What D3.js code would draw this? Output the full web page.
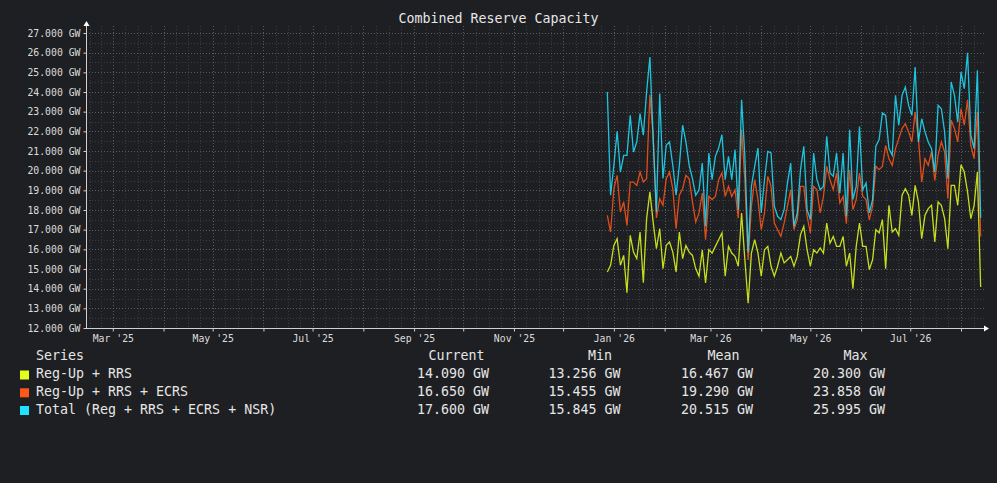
<!DOCTYPE html>
<html>
<head>
<meta charset="utf-8">
<script src="https://cdn.jsdelivr.net/npm/d3@7/dist/d3.min.js"></script>
<style>
  html, body { margin: 0; padding: 0; background: #1e1f22; }
  svg { display: block; }
  text { font-family: "DejaVu Sans Mono", monospace; }
</style>
</head>
<body>
<svg id="chart" width="997" height="483"></svg>
<script>
// ---------- DATA ----------
const chartTitle = "Combined Reserve Capacity";
const seriesStart = "2025-12-28";   // first sample
const stepDays = 2;                 // spacing between samples

const seriesNames = ["Reg-Up + RRS", "Reg-Up + RRS + ECRS", "Total (Reg + RRS + ECRS + NSR)"];
const seriesColors = ["#e4ff1c", "#ff561a", "#1fe2ff"];

const regUpRrs = [
  14.85, 15.19, 16.2, 16.54, 15.19, 15.69, 13.8, 16.71, 15.86, 15.53,
  16.88, 14.3, 17.56, 18.92, 17.39, 16.03, 17.05, 15.02, 16.2, 16.37,
  15.86, 14.85, 16.88, 15.53, 16.2, 15.86, 15.69, 15.02,
  14.63, 15.98, 14.29, 15.98, 15.81, 16.15, 16.49, 16.83, 14.63, 16.15,
  15.81, 15.64, 15.14, 17.85, 15.47, 13.256, 15.81, 16.49, 15.81, 14.63,
  15.98, 16.15, 15.14, 14.63, 15.14, 15.81, 15.31, 15.47, 15.64,
  15.14, 15.64, 16.75, 17.17, 15.98, 15.14, 15.98, 15.81, 16.07, 15.81,
  17.34, 16.32, 16.66, 16.15, 16.15, 16.66, 15.14, 15.81, 14.0, 16.15,
  17.34, 16.15, 16.15, 14.97, 15.47, 17.0, 16.83, 17.51,
  15.02, 18.24, 16.88, 17.05, 16.71, 18.75, 19.08, 18.75, 17.73, 19.25,
  18.41, 16.54, 17.73, 18.07, 18.24, 16.37, 18.41, 18.24, 17.56, 16.03,
  19.25, 19.25, 18.24, 20.3, 19.93, 18.92, 17.56, 18.24, 19.93, 14.09
];
const regUpRrsEcrs = [
  17.73, 16.88, 19.08, 19.76, 17.9, 18.41, 17.22, 19.42, 19.42, 19.25,
  19.93, 19.42, 19.59, 23.858, 21.8, 17.6, 18.58, 18.24, 19.59, 19.93,
  19.08, 17.05, 18.75, 19.08, 19.76, 19.59, 18.41, 17.39,
  17.85, 18.86, 16.49, 18.69, 18.53, 18.69, 19.54, 19.88, 18.69, 19.2,
  18.69, 19.03, 17.6, 22.08, 19.54, 15.455, 18.19, 19.54, 18.53, 17.0,
  17.85, 19.71, 19.2, 17.34, 17.0, 16.66, 17.34, 18.19, 19.03,
  17.0, 17.51, 19.2, 19.2, 17.7, 16.83, 19.2, 19.03, 17.85, 18.69,
  20.22, 19.54, 19.03, 19.88, 18.36, 18.69, 17.3, 20.05, 18.02, 18.53,
  19.88, 18.7, 18.53, 17.5, 18.2, 20.22, 20.05, 20.22,
  21.29, 20.61, 20.27, 21.12, 21.63, 22.14, 22.39, 21.97, 21.46, 22.98,
  21.63, 19.42, 20.61, 20.27, 20.95, 19.5, 20.78, 21.46, 20.95, 18.58,
  22.56, 22.14, 21.46, 23.15, 22.31, 23.6, 21.29, 20.61, 22.98, 16.65
];
const totalReserve = [
  24.0, 18.75, 20.27, 22.0, 19.93, 20.78, 20.78, 22.81, 20.95, 21.46,
  22.9, 21.8, 24.0, 25.78, 21.63, 17.9, 23.92, 19.6, 21.29, 21.46,
  20.27, 18.75, 20.27, 22.31, 21.46, 20.27, 19.6, 18.75,
  19.03, 20.39, 17.17, 20.9, 19.54, 20.73, 21.15, 21.83, 19.54, 20.73,
  19.54, 21.07, 18.02, 23.61, 20.73, 15.845, 19.2, 20.22, 21.15, 17.85,
  19.54, 20.98, 20.9, 18.19, 17.68, 17.51, 18.02, 19.37, 20.39,
  17.17, 17.85, 20.05, 21.24, 18.02, 17.51, 20.9, 19.54, 19.03, 19.2,
  21.75, 19.88, 19.71, 20.9, 18.86, 20.9, 17.68, 22.08, 18.53, 19.2,
  22.25, 19.03, 19.37, 17.85, 18.53, 21.24, 21.58, 22.93,
  22.81, 21.12, 20.78, 23.83, 22.31, 23.83, 24.25, 23.32, 22.81, 25.27,
  21.46, 22.64, 21.97, 21.46, 21.12, 19.93, 23.32, 23.15, 21.97, 19.59,
  24.51, 23.83, 22.47, 25.02, 24.17, 25.995, 21.8, 21.12, 25.1, 17.6
];

const statHeaders = ["Current", "Min", "Mean", "Max"];
const currentVals = ["14.090 GW", "16.650 GW", "17.600 GW"];
const minVals     = ["13.256 GW", "15.455 GW", "15.845 GW"];
const meanVals    = ["16.467 GW", "19.290 GW", "20.515 GW"];
const maxVals     = ["20.300 GW", "23.858 GW", "25.995 GW"];

const yTicks = [12, 13, 14, 15, 16, 17, 18, 19, 20, 21, 22, 23, 24, 25, 26, 27];

// ---------- LAYOUT ----------
const W = 997, H = 483;
const plotL = 86, plotR = 984, plotT = 26, plotB = 328;
const fontAxis = "9.8px", fontBig = "13.3px";
const txtColor = "#dcdcdc";

const svg = d3.select("#chart");
svg.append("rect").attr("width", W).attr("height", H).attr("fill", "#1e1f22");

// x scale anchored on Mar 1 2025 and Aug 1 2026 positions
const xAnchor = d3.scaleUtc()
  .domain([new Date(Date.UTC(2025, 2, 1)), new Date(Date.UTC(2026, 7, 1))])
  .range([112.8, 961]);
const x = d3.scaleUtc()
  .domain([xAnchor.invert(plotL), xAnchor.invert(plotR)])
  .range([plotL, plotR]);
const y = d3.scaleLinear().domain([12, 27]).range([plotB, 33]);

// ---------- GRID ----------
const grid = svg.append("g");
// minor horizontal (half GW)
const minorY = d3.range(12.5, y.invert(plotT), 1);
grid.selectAll(".hmin").data(minorY).enter().append("line")
  .attr("x1", plotL).attr("x2", plotR)
  .attr("y1", d => Math.round(y(d)) + 0.5).attr("y2", d => Math.round(y(d)) + 0.5)
  .attr("stroke", "#3b3c40").attr("stroke-dasharray", "1,2");

// vertical minor (quarter months) and major (month starts)
const [d0, d1] = x.domain();
const months = d3.utcMonth.range(d3.utcMonth.floor(d0), d1);
const minorX = [];
months.forEach(m => {
  const next = d3.utcMonth.offset(m, 1);
  for (let k = 1; k < 4; k++) {
    minorX.push(new Date(+m + (next - m) * k / 4));
  }
});
grid.selectAll(".vmin").data(minorX.filter(d => d > d0 && d < d1)).enter().append("line")
  .attr("x1", d => Math.round(x(d)) + 0.5).attr("x2", d => Math.round(x(d)) + 0.5)
  .attr("y1", plotT).attr("y2", plotB)
  .attr("stroke", "#3b3c40").attr("stroke-dasharray", "1,2");
const majorX = months.filter(d => d > d0);
grid.selectAll(".vmaj").data(majorX).enter().append("line")
  .attr("x1", d => Math.round(x(d)) + 0.5).attr("x2", d => Math.round(x(d)) + 0.5)
  .attr("y1", plotT).attr("y2", plotB)
  .attr("stroke", "#5a5b5f").attr("stroke-dasharray", "1,2");
// major horizontal
grid.selectAll(".hmaj").data(yTicks.filter(v => v > 12)).enter().append("line")
  .attr("x1", plotL).attr("x2", plotR)
  .attr("y1", d => Math.round(y(d)) + 0.5).attr("y2", d => Math.round(y(d)) + 0.5)
  .attr("stroke", "#5a5b5f").attr("stroke-dasharray", "1,2");

// ---------- SERIES ----------
const startDate = new Date(seriesStart + "T00:00:00Z");
const toPoints = arr => arr.map((v, i) => ({ date: d3.utcDay.offset(startDate, i * stepDays), value: v }));
const allSeries = [regUpRrs, regUpRrsEcrs, totalReserve];
const line = d3.line().x(d => x(d.date)).y(d => y(d.value));
const gLines = svg.append("g");
allSeries.forEach((arr, i) => {
  gLines.append("path")
    .datum(toPoints(arr))
    .attr("d", line)
    .attr("fill", "none")
    .attr("stroke", seriesColors[i])
    .attr("stroke-width", 1.3)
    .attr("stroke-opacity", 0.85)
    .attr("stroke-linejoin", "miter");
});

// ---------- AXES ----------
const axisColor = "#d0d0d0";
const yAxis = d3.axisLeft(y).tickValues(yTicks).tickSize(3).tickPadding(3)
  .tickFormat(d => d3.format(".3f")(d) + " GW");
const gy = svg.append("g").attr("transform", `translate(${plotL + 0.5},0)`).call(yAxis);
gy.select(".domain").remove();
gy.selectAll("line").attr("stroke", axisColor);
gy.selectAll("text").attr("fill", txtColor).style("font-size", fontAxis)
  .style("font-family", "DejaVu Sans Mono");

const labelMonths = months.filter(d => d > d0 && d.getUTCMonth() % 2 === 0);
const xAxis = d3.axisBottom(x).tickValues(majorX).tickSize(3).tickPadding(4)
  .tickFormat(d => labelMonths.some(m => +m === +d) ? d3.utcFormat("%b '%y")(d) : "");
const gx = svg.append("g").attr("transform", `translate(0,${plotB + 0.5})`).call(xAxis);
gx.select(".domain").remove();
gx.selectAll("line").attr("stroke", axisColor);
gx.selectAll("text").attr("fill", txtColor).style("font-size", fontAxis)
  .style("font-family", "DejaVu Sans Mono");

// axis lines with arrows
svg.append("line").attr("x1", plotL + 0.5).attr("x2", plotL + 0.5)
  .attr("y1", plotB + 1).attr("y2", plotT - 3).attr("stroke", axisColor);
svg.append("path").attr("d", `M${plotL - 2.5},${plotT} L${plotL + 0.5},${plotT - 5} L${plotL + 3.5},${plotT} Z`)
  .attr("fill", "#ffffff");
svg.append("line").attr("x1", plotL).attr("x2", plotR + 1)
  .attr("y1", plotB + 0.5).attr("y2", plotB + 0.5).attr("stroke", axisColor);
svg.append("path").attr("d", `M${plotR},${plotB - 2.5} L${plotR + 5},${plotB + 0.5} L${plotR},${plotB + 3.5} Z`)
  .attr("fill", "#ffffff");

// ---------- TITLE ----------
svg.append("text").attr("x", W / 2).attr("y", 23).attr("text-anchor", "middle")
  .attr("fill", "#e6e6e6").style("font-size", fontBig).text(chartTitle);

// ---------- LEGEND ----------
const lg = svg.append("g");
const headerY = 360, rowY = [378, 395.8, 413.5];
const colValX = [417, 548.5, 681, 813];
const colHeadX = [428.5, 588, 707.6, 843.5];
lg.append("text").attr("x", 36).attr("y", headerY).attr("fill", "#e6e6e6")
  .style("font-size", fontBig).text("Series");
statHeaders.forEach((h, j) => {
  lg.append("text").attr("x", colHeadX[j]).attr("y", headerY).attr("fill", "#e6e6e6")
    .style("font-size", fontBig).text(h);
});
const statCols = [currentVals, minVals, meanVals, maxVals];
seriesNames.forEach((name, i) => {
  lg.append("rect").attr("x", 20).attr("y", rowY[i] - 7.5).attr("width", 9).attr("height", 9)
    .attr("fill", seriesColors[i]);
  lg.append("text").attr("x", 36).attr("y", rowY[i]).attr("fill", "#e6e6e6")
    .style("font-size", fontBig).text(name);
  statCols.forEach((col, j) => {
    lg.append("text").attr("x", colValX[j]).attr("y", rowY[i]).attr("fill", "#e6e6e6")
      .style("font-size", fontBig).text(col[i]);
  });
});
</script>
</body>
</html>
